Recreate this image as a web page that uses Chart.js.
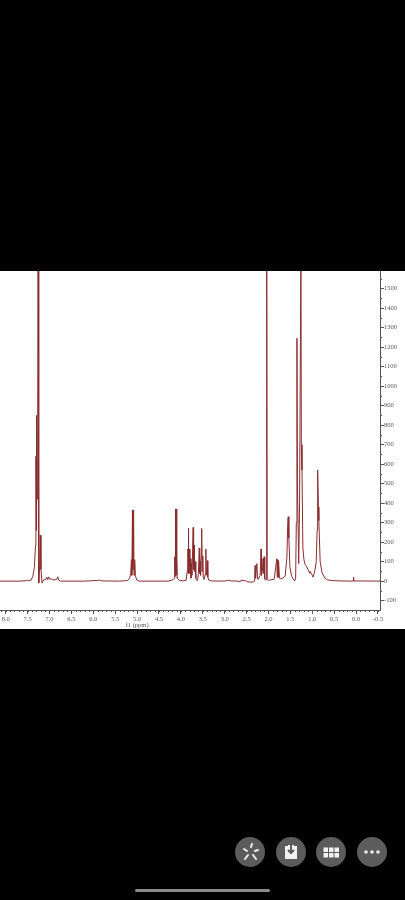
<!DOCTYPE html>
<html><head><meta charset="utf-8">
<script src="https://cdn.jsdelivr.net/npm/chart.js@4"></script>
<style>
html,body{margin:0;padding:0;background:#000;width:405px;height:900px;overflow:hidden}
#wrap{position:absolute;left:0;top:271px;width:405px;height:358px;background:#fff}
canvas{filter:blur(0.45px)}
#ui{position:absolute;left:0;top:825px}
</style></head><body>
<div id="wrap"><canvas id="c" width="405" height="358"></canvas></div>
<svg id="ui" width="405" height="75" viewBox="0 0 405 75">
 <g fill="#5c5c5c"><circle cx="250" cy="27" r="15"/><circle cx="291" cy="27" r="15"/><circle cx="331" cy="27" r="15"/><circle cx="372" cy="27" r="15"/></g>
 <g stroke="#eee" stroke-width="2" stroke-linecap="round"><path d="M251 22l1-3M255 26l3-1M253 30l3 4M248 30l-3 4M247 26l-3-2"/></g>
 <path d="M285 21h3v-1h6v1h3v13h-12z" fill="#f2f2f2"/><path d="M291 19v9M288 25l3 3 3-3" stroke="#5c5c5c" stroke-width="2" fill="none"/>
 <g fill="#f2f2f2"><rect x="323.5" y="22.5" width="4.5" height="4.5"/><rect x="329" y="22.5" width="4.5" height="4.5"/><rect x="334.5" y="22.5" width="4.5" height="4.5"/><rect x="323.5" y="28" width="4.5" height="4.5"/><rect x="329" y="28" width="4.5" height="4.5"/><rect x="334.5" y="28" width="4.5" height="4.5"/></g>
 <g fill="#eee"><circle cx="366" cy="27" r="1.8"/><circle cx="372" cy="27" r="1.8"/><circle cx="378" cy="27" r="1.8"/></g>
 <rect x="135" y="64" width="135" height="3" rx="1.5" fill="#8a8a8a"/>
</svg>
<script>
const ppm=[8.13,7.7,7.53,7.51,7.49,7.42,7.38,7.345,7.32,7.31,7.30,7.295,7.285,7.27,7.26,7.25,7.24,7.225,7.21,7.195,7.17,7.14,7.08,7.06,7.04,7.02,7.0,6.96,6.9,6.84,6.81,6.79,6.75,6.2,5.88,5.85,5.8,5.4,5.22,5.17,5.145,5.13,5.12,5.105,5.095,5.08,5.07,5.055,5.04,5.01,4.95,4.3,4.19,4.15,4.145,4.14,4.13,4.125,4.118,4.11,4.10,4.09,4.085,4.08,4.04,3.95,3.88,3.85,3.84,3.835,3.83,3.82,3.805,3.795,3.785,3.77,3.755,3.745,3.72,3.71,3.70,3.69,3.675,3.66,3.64,3.62,3.6,3.58,3.57,3.56,3.55,3.535,3.525,3.515,3.50,3.49,3.47,3.44,3.43,3.42,3.397,3.385,3.36,3.30,3.0,2.92,2.85,2.7,2.65,2.62,2.58,2.52,2.5,2.42,2.35,2.33,2.315,2.305,2.295,2.265,2.25,2.23,2.19,2.17,2.16,2.14,2.125,2.11,2.10,2.085,2.06,2.05,2.04,2.03,2.01,1.98,1.87,1.81,1.80,1.79,1.78,1.77,1.75,1.72,1.68,1.62,1.58,1.56,1.55,1.535,1.51,1.47,1.42,1.395,1.38,1.365,1.35,1.34,1.31,1.29,1.26,1.25,1.235,1.215,1.19,1.165,1.14,1.10,1.06,1.05,1.0,0.98,0.94,0.91,0.89,0.885,0.87,0.86,0.85,0.82,0.78,0.71,0.65,0.5,0.1,0.07,0.06,0.05,-0.6];
const intensity=[0,0,2,6,2,6,25,70,180,640,260,850,420,640,1700,500,-10,80,235,60,-10,5,10,20,8,22,10,12,6,8,22,5,0,0,4,5,1,0,3,15,40,110,30,365,60,365,30,110,30,6,0,0,6,15,20,125,25,370,40,370,30,120,20,15,4,1,5,60,165,40,270,40,165,40,115,15,90,30,275,60,185,50,100,15,5,4,40,170,40,100,30,130,270,50,130,20,8,40,165,30,105,20,5,1,0,5,1,0,-4,6,3,3,-2,-5,-4,0,30,80,15,90,10,10,30,165,30,50,115,40,125,10,5,10,1700,10,5,5,10,115,20,110,20,105,15,12,15,25,120,300,330,220,70,25,5,3,15,300,1245,500,90,400,1700,700,570,170,110,85,80,60,40,50,30,20,55,100,260,290,570,380,310,100,45,15,6,2,0,1,20,1,0];
const xTicks=[8,7.5,7,6.5,6,5.5,5,4.5,4,3.5,3,2.5,2,1.5,1,0.5,0,-0.5];
const yTicks=[-100,0,100,200,300,400,500,600,700,800,900,1000,1100,1200,1300,1400,1500];
const xTitleText='f1 (ppm)';
const axisColor='#555';
const labelFont='6.5px "Liberation Serif"';

const minorTicks={id:'minorTicks',afterDraw(ch){
  const {ctx,scales:{x,y},chartArea:a}=ch;
  ctx.save();ctx.strokeStyle=axisColor;ctx.lineWidth=1;ctx.beginPath();
  for(let i=-5;i<=81;i++){const px=Math.round(x.getPixelForValue(i/10))+.5;
    if(px<a.left||px>a.right)continue;ctx.moveTo(px,a.bottom);ctx.lineTo(px,a.bottom+2);}
  for(let v=-150;v<=1550;v+=100){const py=Math.round(y.getPixelForValue(v))+.5;
    if(py<a.top||py>a.bottom)continue;ctx.moveTo(a.right,py);ctx.lineTo(a.right+2,py);}
  ctx.stroke();
  ctx.fillStyle=axisColor;ctx.font=labelFont;ctx.textAlign='center';ctx.textBaseline='middle';
  ctx.fillText(xTitleText,x.getPixelForValue(5),a.bottom+15);
  ctx.restore();
}};

new Chart(document.getElementById('c'),{
  type:'line',
  data:{datasets:[{data:ppm.map((p,i)=>({x:p,y:intensity[i]})),borderColor:'#8a2c2e',borderWidth:1,pointRadius:0,tension:0,fill:false}]},
  plugins:[minorTicks],
  options:{responsive:false,animation:false,events:[],
    layout:{padding:0},
    plugins:{legend:{display:false},tooltip:{enabled:false}},
    scales:{
      x:{type:'linear',reverse:true,min:-0.546,max:8.13,
        afterBuildTicks(s){s.ticks=xTicks.map(v=>({value:v}));},
        afterFit(s){s.height=19;s.paddingLeft=0;s.paddingRight=0;},
        border:{color:axisColor,width:1},
        grid:{drawOnChartArea:false,drawTicks:true,tickLength:4,color:axisColor},
        ticks:{color:axisColor,font:{family:'Liberation Serif',size:6.5},padding:1,maxRotation:0,autoSkip:false,
          callback:v=>Number(v).toFixed(1)}},
      y:{type:'linear',position:'right',min:-148,max:1590,
        afterBuildTicks(s){s.ticks=yTicks.map(v=>({value:v}));},
        afterFit(s){s.width=25;s.paddingTop=0;s.paddingBottom=0;},
        border:{color:axisColor,width:1},
        grid:{drawOnChartArea:false,drawTicks:true,tickLength:4,color:axisColor},
        ticks:{color:axisColor,font:{family:'Liberation Serif',size:6.5},padding:0,autoSkip:false,
          callback:v=>String(v)}}
    }}
});
</script></body></html>
